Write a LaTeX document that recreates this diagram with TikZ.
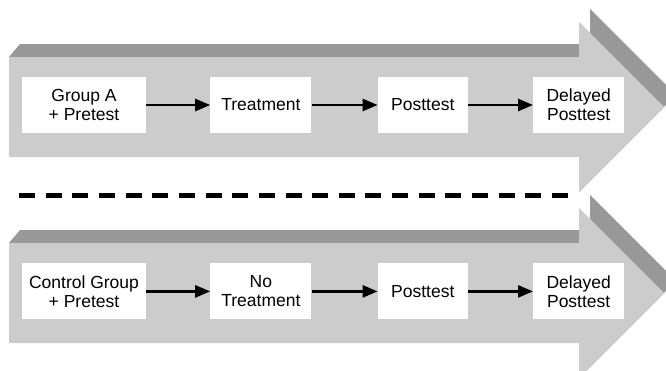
\documentclass[tikz,border=0pt]{standalone}
\usepackage{fontspec}
\setmainfont{Liberation Sans}
\usetikzlibrary{positioning,arrows.meta}
\definecolor{bandface}{HTML}{CCCCCC}
\definecolor{bandedge}{HTML}{999999}
\begin{document}
\begin{tikzpicture}[x=1pt, y=-1pt,
  stage/.style={rectangle, fill=white, minimum height=56pt, inner sep=2pt, align=center,
    font=\fontsize{17.5}{19}\selectfont},
  flow/.style={-{Triangle[length=15pt,width=12pt]}, line width=2.6pt}]
  \clip (0,0) rectangle (666,370);

  % top band
  \fill[bandedge] (9,57) -- (20,44) -- (590,44) -- (590,9) -- (675,94) -- (664,107) -- (579,192) -- (579,57) -- cycle;
  \fill[bandface] (9,57) -- (579,57) -- (579,22) -- (664,107) -- (579,192) -- (579,157) -- (9,157) -- cycle;

  % bottom band
  \fill[bandedge] (9,243) -- (20,230) -- (590,230) -- (590,195) -- (675,280) -- (664,293) -- (579,378) -- (579,243) -- cycle;
  \fill[bandface] (9,243) -- (579,243) -- (579,208) -- (664,293) -- (579,378) -- (579,343) -- (9,343) -- cycle;

  % separator
  \coordinate (sepL) at (19,195.5);
  \coordinate (sepR) at (568,195.5);
  \draw[line width=4.5pt, dash pattern=on 16pt off 10.65pt] (sepL) -- (sepR);

  \node[stage, minimum width=124pt] (grpA) at (84,105) {Group A\\+ Pretest};
  \node[stage, minimum width=101pt, right=64pt of grpA] (treat) {Treatment};
  \node[stage, minimum width=90pt, right=66pt of treat] (postA) {Posttest};
  \node[stage, minimum width=91pt, right=65pt of postA] (delayA) {Delayed\\Posttest};

  \node[stage, minimum width=124pt, below=130pt of grpA] (ctrl) {Control Group\\+ Pretest};
  \node[stage, minimum width=101pt, right=64pt of ctrl] (notreat) {No\\Treatment};
  \node[stage, minimum width=90pt, right=66pt of notreat] (postB) {Posttest};
  \node[stage, minimum width=91pt, right=65pt of postB] (delayB) {Delayed\\Posttest};

  \draw[flow] (grpA) -- (treat);
  \draw[flow] (treat) -- (postA);
  \draw[flow] (postA) -- (delayA);
  \draw[flow] (ctrl) -- (notreat);
  \draw[flow] (notreat) -- (postB);
  \draw[flow] (postB) -- (delayB);
\end{tikzpicture}
\end{document}
